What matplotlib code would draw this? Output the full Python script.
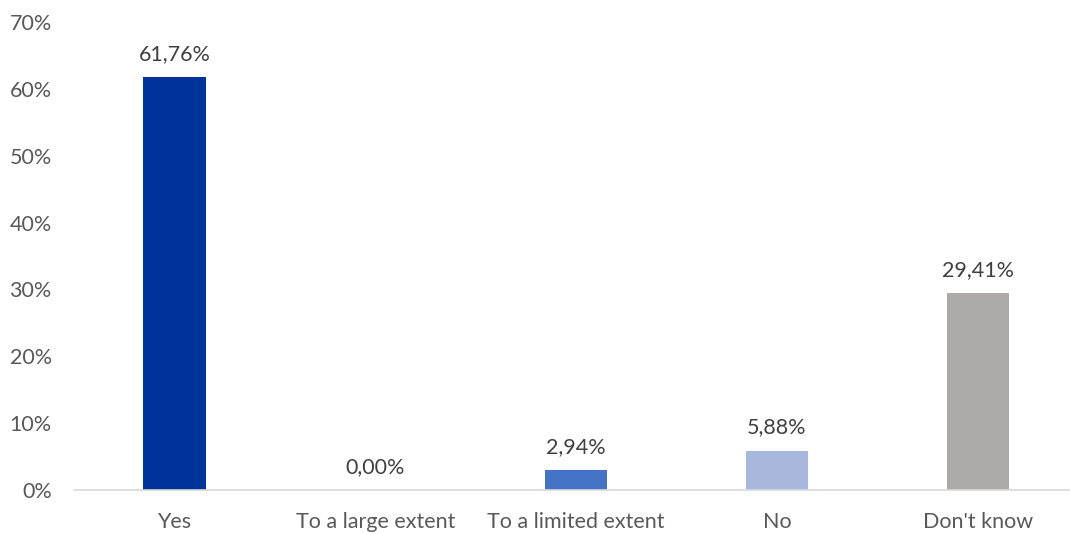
import numpy as np
import matplotlib.pyplot as plt

categories = ["Yes", "To a large extent", "To a limited extent", "No", "Don't know"]
values = [61.76, 0.00, 2.94, 5.88, 29.41]
labels = ["61,76%", "0,00%", "2,94%", "5,88%", "29,41%"]
colors = ["#003399", "#4472C4", "#4472C4", "#A9B7DD", "#AEAAAA"]

plt.rcParams['font.family'] = ['Lato', 'DejaVu Sans']

fig = plt.figure(figsize=(10.7, 5.34), dpi=100)
ax = fig.add_axes([74 / 1070, 44 / 534, 996 / 1070, 468 / 534])

x = np.arange(len(categories))
bars = ax.bar(x, values, width=0.31, color=colors)

for xi, v, lab in zip(x, values, labels):
    ax.text(xi, v + 2.0, lab, ha='center', va='bottom', fontsize=15.5, color='#404040')

ax.set_ylim(0, 70)
ax.set_xlim(-0.5, 4.46)
ax.set_yticks(range(0, 71, 10))
ax.set_yticklabels([f"{t}%" for t in range(0, 71, 10)])
ax.set_xticks(x)
ax.set_xticklabels(categories)
ax.tick_params(axis='both', length=0, labelsize=15.5, colors='#595959')
ax.tick_params(axis='y', pad=16)
ax.tick_params(axis='x', pad=16)

for s in ['top', 'right', 'left']:
    ax.spines[s].set_visible(False)
ax.spines['bottom'].set_color('#D9D9D9')
ax.spines['bottom'].set_linewidth(1.2)

fig.savefig("out.png", dpi=100)
